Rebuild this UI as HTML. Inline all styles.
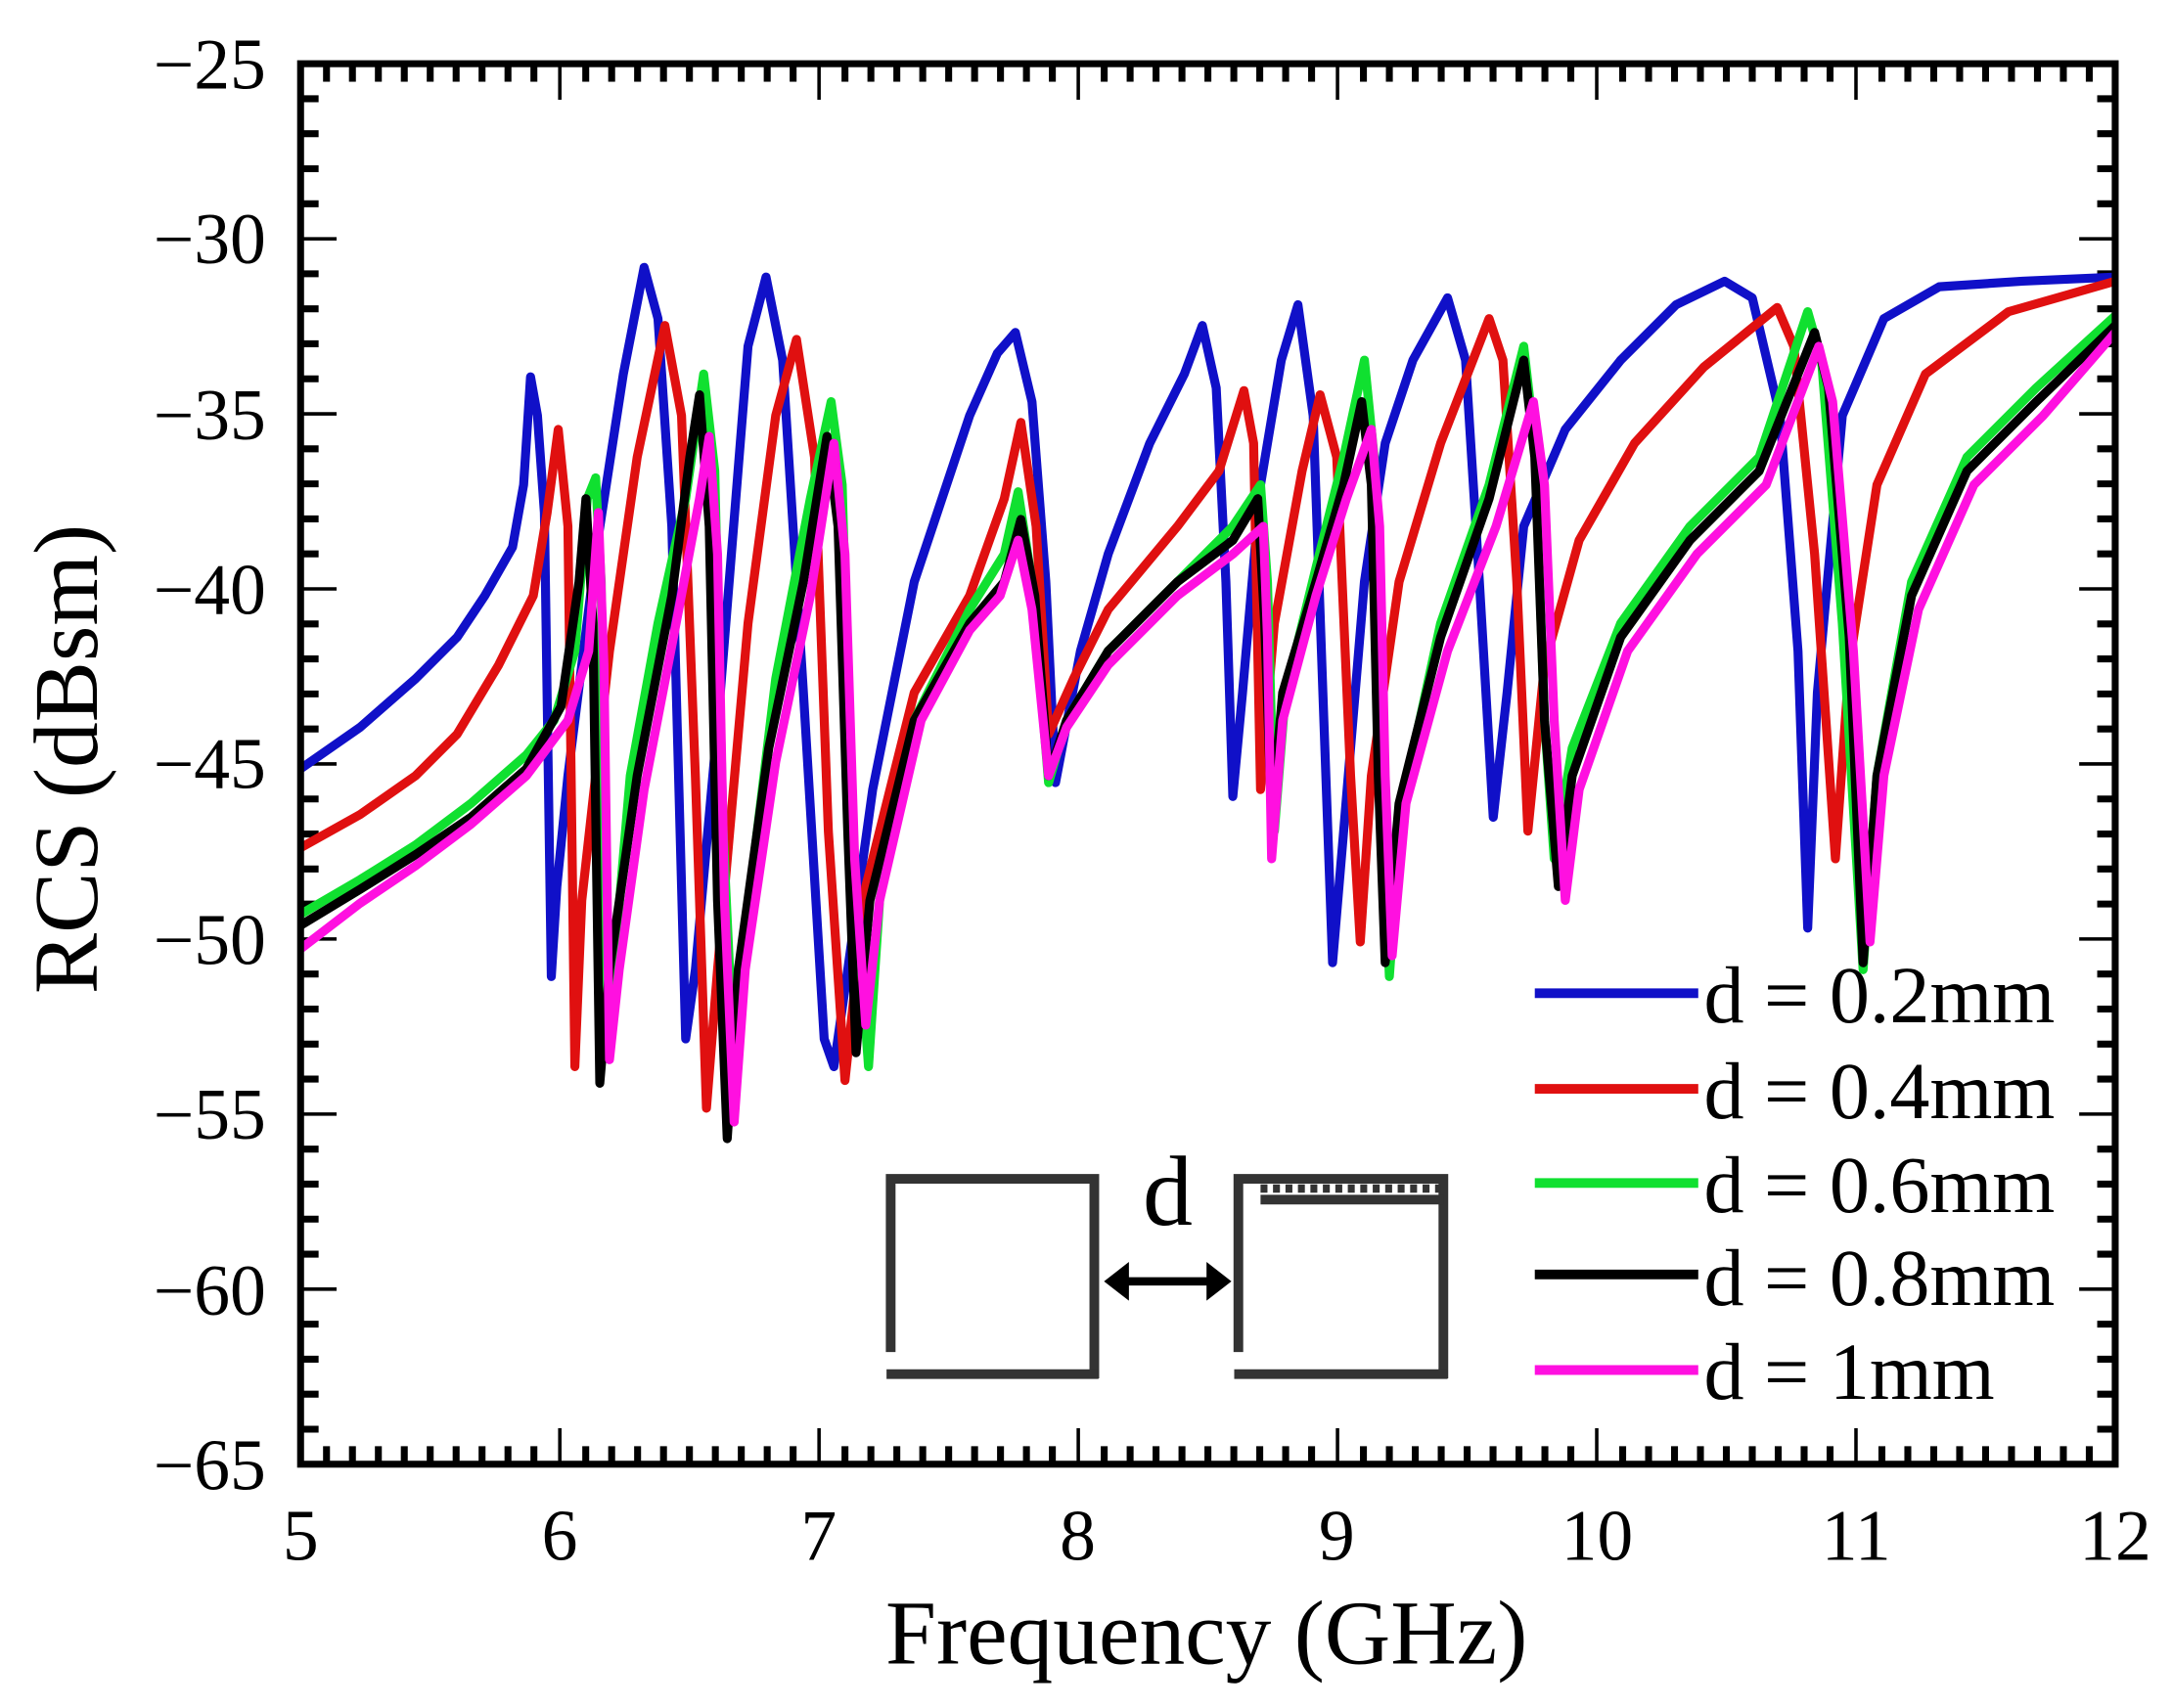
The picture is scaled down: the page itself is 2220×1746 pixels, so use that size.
<!DOCTYPE html>
<html><head><meta charset="utf-8"><style>
html,body{margin:0;padding:0;background:#fff;width:2220px;height:1746px;overflow:hidden}
svg{display:block}
text{font-family:"Liberation Serif",serif;fill:#000}
</style></head><body>
<svg width="2220" height="1746" viewBox="0 0 1568 1233" preserveAspectRatio="none" xmlns="http://www.w3.org/2000/svg">
<rect width="1568" height="1233" fill="#fff"/>
<g id="ticks" stroke="#000"></g>
<g fill="none" stroke-width="6.5" stroke-linejoin="round">
<polyline id="b" stroke="#1010c8"/>
<polyline id="r" stroke="#e01010"/>
<polyline id="g" stroke="#10e030"/>
<polyline id="k" stroke="#000"/>
<polyline id="m" stroke="#ff10e0"/>
</g>
<rect x="217" y="46" width="1310" height="1011" fill="none" stroke="#000" stroke-width="5"/>
<g font-size="52" text-anchor="end">
<text x="192" y="64">−25</text><text x="192" y="190">−30</text><text x="192" y="317">−35</text><text x="192" y="443">−40</text>
<text x="192" y="569">−45</text><text x="192" y="696">−50</text><text x="192" y="822">−55</text><text x="192" y="949">−60</text><text x="192" y="1075">−65</text>
</g>
<g font-size="52" text-anchor="middle">
<text x="217" y="1126">5</text><text x="404" y="1126">6</text><text x="591" y="1126">7</text><text x="778" y="1126">8</text>
<text x="965" y="1126">9</text><text x="1153" y="1126">10</text><text x="1340" y="1126">11</text><text x="1527" y="1126">12</text>
</g>
<text x="871" y="1201" font-size="66" text-anchor="middle">Frequency (GHz)</text>
<text transform="translate(70,548) rotate(-90)" font-size="66" text-anchor="middle">RCS (dBsm)</text>
<g stroke-width="7">
<line x1="1108" y1="717" x2="1226" y2="717" stroke="#1010c8"/>
<line x1="1108" y1="786" x2="1226" y2="786" stroke="#e01010"/>
<line x1="1108" y1="854" x2="1226" y2="854" stroke="#10e030"/>
<line x1="1108" y1="920" x2="1226" y2="920" stroke="#000"/>
<line x1="1108" y1="989" x2="1226" y2="989" stroke="#ff10e0"/>
</g>
<g font-size="58">
<text x="1230" y="738">d = 0.2mm</text><text x="1230" y="807">d = 0.4mm</text><text x="1230" y="875">d = 0.6mm</text>
<text x="1230" y="942">d = 0.8mm</text><text x="1230" y="1010">d = 1mm</text>
</g>
<g fill="none" stroke="#333" stroke-width="7">
<polyline points="643,976 643,851 790,851 790,995"/>
<line x1="640" y1="992" x2="793" y2="992"/>
<polyline points="894,976 894,851 1042,851 1042,995"/>
<line x1="891" y1="992" x2="1045" y2="992"/>
<line x1="910" y1="866" x2="1042" y2="866"/>
<line x1="910" y1="858" x2="1040" y2="858" stroke-dasharray="5,4" stroke-width="6"/>
</g>
<line x1="810" y1="925" x2="876" y2="925" stroke="#000" stroke-width="6"/>
<polygon points="797,925 815,911 815,939" fill="#000"/>
<polygon points="889,925 871,911 871,939" fill="#000"/>
<text x="843" y="884" font-size="72" text-anchor="middle">d</text>
</svg>
<script>
var d={
b:"217,555 260,525 300,490 330,460 350,430 370,395 378,350 383,272 388,300 393,370 398,705 402,640 410,560 430,400 450,270 465,193 475,230 485,380 495,750 502,700 520,500 540,250 553,200 565,260 580,500 595,750 602,770 612,700 630,570 660,420 700,300 720,255 733,240 745,290 755,420 762,565 780,470 800,400 830,320 855,270 868,235 878,280 885,420 890,575 897,500 910,350 925,260 937,220 948,300 955,500 962,695 970,600 985,420 1000,320 1020,260 1045,215 1058,260 1068,420 1078,590 1088,500 1100,380 1130,310 1170,260 1210,220 1245,203 1265,215 1285,300 1298,470 1305,670 1312,500 1330,300 1360,230 1400,207 1460,203 1527,200",
r:"217,612 260,588 300,560 330,530 360,480 385,430 395,370 403,310 410,380 415,770 420,650 440,470 460,330 480,235 492,300 502,560 510,800 518,700 540,450 560,300 575,245 588,330 598,600 610,780 625,640 660,500 700,430 725,360 737,305 748,380 757,530 775,490 800,440 850,380 880,340 898,282 905,320 910,570 920,450 940,340 953,285 965,330 975,560 982,680 990,560 1010,420 1040,320 1075,230 1085,260 1095,420 1103,600 1115,480 1140,390 1180,320 1230,265 1283,222 1295,250 1310,400 1325,620 1335,480 1355,350 1390,270 1450,225 1527,203",
g:"217,660 260,635 300,610 340,580 380,545 400,520 415,470 424,360 430,345 434,420 438,740 443,700 455,560 475,450 495,360 508,270 516,340 522,600 530,770 537,680 560,490 585,360 600,290 608,350 615,600 627,770 635,650 660,520 700,440 725,400 735,355 745,420 757,565 770,520 800,470 850,420 890,380 910,350 915,420 920,600 928,500 950,410 970,330 985,260 992,330 997,560 1003,705 1012,580 1040,450 1075,350 1100,250 1108,320 1115,520 1122,620 1135,540 1170,450 1220,380 1270,330 1305,225 1315,260 1330,450 1345,700 1355,560 1380,420 1420,330 1470,280 1527,228",
k:"217,668 260,642 300,617 340,590 380,555 405,510 418,420 423,360 428,450 433,782 440,700 460,560 485,430 498,330 505,285 512,380 518,650 525,822 533,700 555,540 580,420 597,315 605,380 612,600 618,760 628,650 660,520 700,450 725,420 737,375 747,430 757,560 770,520 800,470 850,420 890,390 908,360 913,450 918,590 926,500 950,420 970,350 983,290 990,350 995,560 1000,695 1010,580 1040,460 1075,360 1100,260 1108,330 1115,520 1125,640 1135,560 1170,460 1220,390 1270,340 1310,240 1320,280 1335,460 1345,695 1355,560 1380,430 1420,340 1470,290 1527,235",
m:"217,685 260,652 300,625 340,595 380,560 410,520 425,470 432,370 436,480 440,765 447,700 465,570 490,440 505,360 512,315 518,400 523,650 530,810 538,700 560,550 585,430 602,320 610,400 617,620 625,740 635,650 665,520 700,455 722,430 735,390 745,440 757,560 770,525 800,480 850,430 890,400 912,380 915,460 918,620 926,520 950,430 972,360 990,310 996,380 1000,560 1005,690 1015,580 1045,470 1080,380 1107,290 1115,350 1122,520 1130,650 1140,570 1175,470 1225,400 1275,350 1313,250 1323,290 1338,470 1350,680 1360,560 1385,440 1425,350 1475,300 1527,240"};
for(var k in d)document.getElementById(k).setAttribute("points",d[k]);
var t="",i,x,y,L;
for(i=0;i<=70;i++){x=217+i*1310/70;L=(i%10==0)?26:13;
t+='<line x1="'+x+'" y1="1057" x2="'+x+'" y2="'+(1057-L)+'" stroke-width="'+(i%10==0?2.5:5)+'"/>';
t+='<line x1="'+x+'" y1="46" x2="'+x+'" y2="'+(46+L)+'" stroke-width="'+(i%10==0?2.5:5)+'"/>';}
for(i=0;i<=40;i++){y=46+i*1011/40;L=(i%5==0)?26:13;
t+='<line x1="217" y1="'+y+'" x2="'+(217+L)+'" y2="'+y+'" stroke-width="'+(i%5==0?2.5:5)+'"/>';
t+='<line x1="1527" y1="'+y+'" x2="'+(1527-L)+'" y2="'+y+'" stroke-width="'+(i%5==0?2.5:5)+'"/>';}
document.getElementById("ticks").innerHTML=t;
</script>
</body></html>
